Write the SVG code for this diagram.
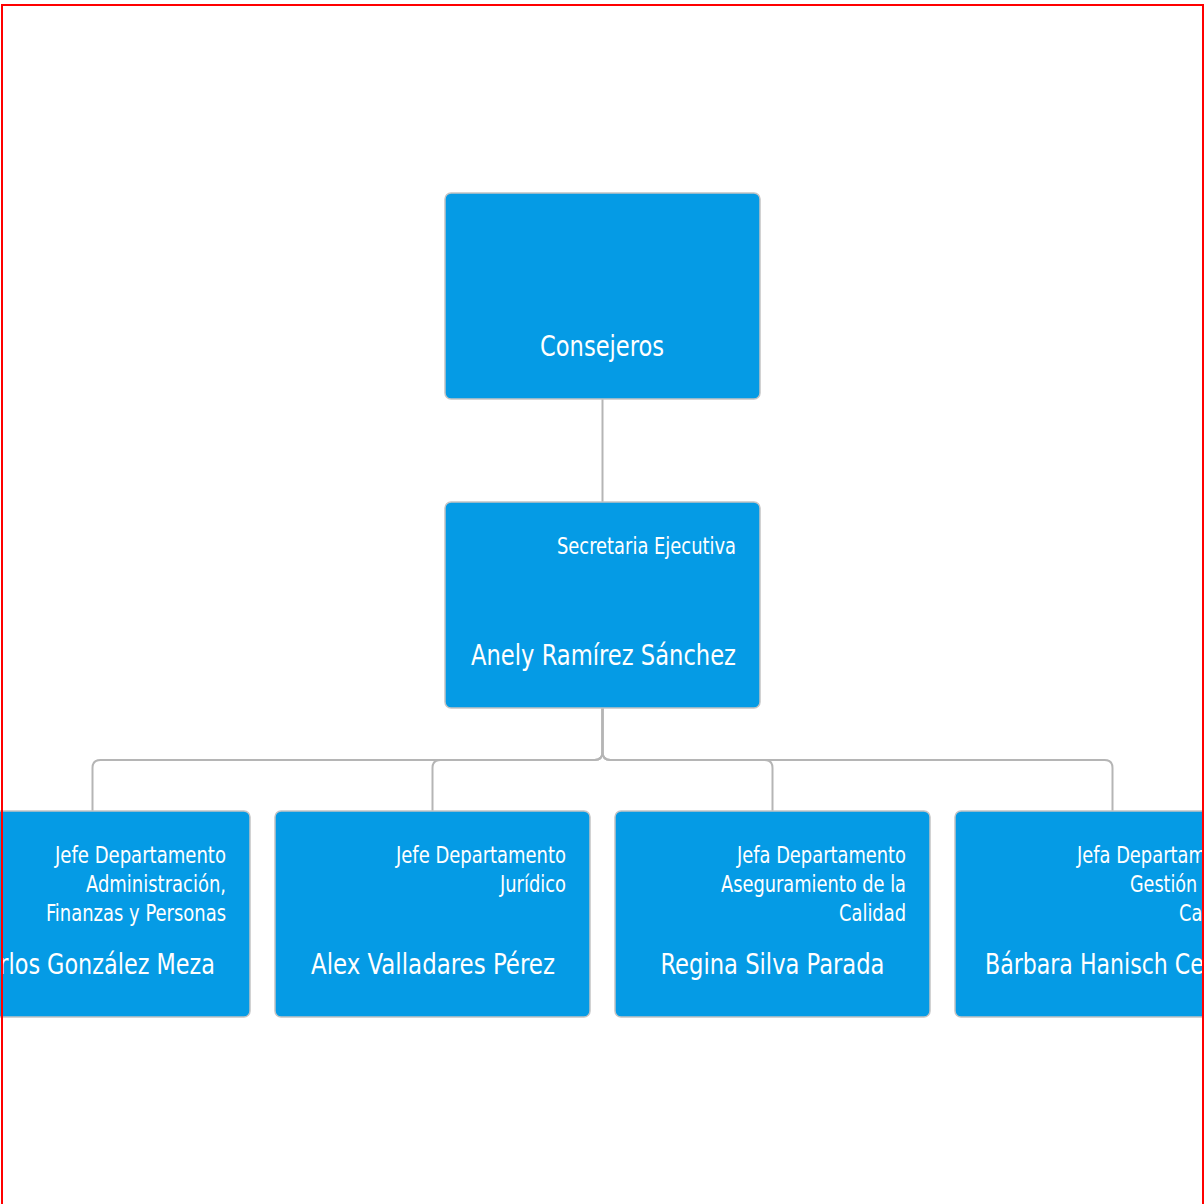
<svg xmlns="http://www.w3.org/2000/svg" width="1204" height="1204" viewBox="0 0 1204 1204">
<style>
.box{fill:#059be5;stroke:#c4c4c4;stroke-width:1.5}
.t{font-family:"DejaVu Sans Condensed","DejaVu Sans",sans-serif;font-stretch:condensed;fill:#ffffff}
.title{font-size:23px;text-anchor:end}
.name{font-size:28.5px;text-anchor:middle}
.conn{fill:none;stroke:#b5b5b5;stroke-width:2}
</style>
<rect x="0" y="0" width="1204" height="1204" fill="#ffffff"/>
<g id="connectors">
<path class="conn" d="M602.5,399 V502"/>
<path class="conn" d="M602.5,708 V752 Q602.5,760 594.5,760 H100.5 Q92.5,760 92.5,768 V811"/>
<path class="conn" d="M602.5,708 V752 Q602.5,760 594.5,760 H440.5 Q432.5,760 432.5,768 V811"/>
<path class="conn" d="M602.5,708 V752 Q602.5,760 610.5,760 H764.5 Q772.5,760 772.5,768 V811"/>
<path class="conn" d="M602.5,708 V752 Q602.5,760 610.5,760 H1104.5 Q1112.5,760 1112.5,768 V811"/>
</g>
<g id="consejeros">
<rect class="box" x="445" y="193" width="315" height="206" rx="6"/>
<text class="t name" x="602" y="356" textLength="124" lengthAdjust="spacingAndGlyphs">Consejeros</text>
</g>
<g id="secretaria">
<rect class="box" x="445" y="502" width="315" height="206" rx="6"/>
<text class="t title" x="736" y="554" textLength="179" lengthAdjust="spacingAndGlyphs">Secretaria Ejecutiva</text>
<text class="t name" x="603.5" y="665" textLength="265" lengthAdjust="spacingAndGlyphs">Anely Ramírez Sánchez</text>
</g>
<g id="administracion">
<rect class="box" x="-65" y="811" width="315" height="206" rx="6"/>
<text class="t title" x="226" y="862.5" textLength="171" lengthAdjust="spacingAndGlyphs">Jefe Departamento</text>
<text class="t title" x="226" y="891.5" textLength="140" lengthAdjust="spacingAndGlyphs">Administración,</text>
<text class="t title" x="226" y="920.5" textLength="180" lengthAdjust="spacingAndGlyphs">Finanzas y Personas</text>
<text class="t name" x="92.5" y="973.5" textLength="245" lengthAdjust="spacingAndGlyphs">Carlos González Meza</text>
</g>
<g id="juridico">
<rect class="box" x="275" y="811" width="315" height="206" rx="6"/>
<text class="t title" x="566" y="862.5" textLength="170" lengthAdjust="spacingAndGlyphs">Jefe Departamento</text>
<text class="t title" x="566" y="891.5" textLength="66" lengthAdjust="spacingAndGlyphs">Jurídico</text>
<text class="t name" x="433" y="973.5" textLength="244" lengthAdjust="spacingAndGlyphs">Alex Valladares Pérez</text>
</g>
<g id="calidad">
<rect class="box" x="615" y="811" width="315" height="206" rx="6"/>
<text class="t title" x="906" y="862.5" textLength="169" lengthAdjust="spacingAndGlyphs">Jefa Departamento</text>
<text class="t title" x="906" y="891.5" textLength="185" lengthAdjust="spacingAndGlyphs">Aseguramiento de la</text>
<text class="t title" x="906" y="920.5" textLength="67" lengthAdjust="spacingAndGlyphs">Calidad</text>
<text class="t name" x="772.5" y="973.5" textLength="224" lengthAdjust="spacingAndGlyphs">Regina Silva Parada</text>
</g>
<g id="gestion">
<rect class="box" x="955" y="811" width="315" height="206" rx="6"/>
<text class="t title" x="1246" y="862.5" textLength="169" lengthAdjust="spacingAndGlyphs">Jefa Departamento</text>
<text class="t title" x="1246" y="891.5" textLength="116" lengthAdjust="spacingAndGlyphs">Gestión de la</text>
<text class="t title" x="1246" y="920.5" textLength="67" lengthAdjust="spacingAndGlyphs">Calidad</text>
<text class="t name" x="1112.5" y="973.5" textLength="255" lengthAdjust="spacingAndGlyphs">Bárbara Hanisch Cerda</text>
</g>
<rect x="2" y="5" width="1201" height="1300" fill="none" stroke="#ff0000" stroke-width="2"/>
</svg>
